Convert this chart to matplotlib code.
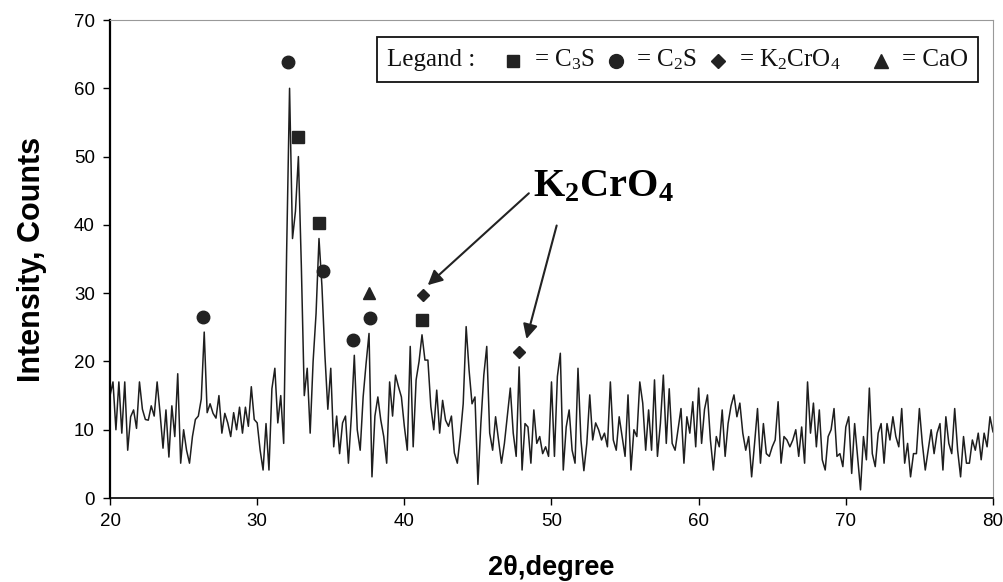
import numpy as np
import matplotlib
matplotlib.use('Agg')
import matplotlib.pyplot as plt
from matplotlib.lines import Line2D
from matplotlib.offsetbox import TextArea, DrawingArea, HPacker, AnchoredOffsetbox

plt.rcParams['font.family'] = ['Liberation Sans', 'DejaVu Sans']
plt.rcParams['mathtext.fontset'] = 'custom'
plt.rcParams['mathtext.rm'] = 'Liberation Serif'
plt.rcParams['mathtext.it'] = 'Liberation Serif:italic'
plt.rcParams['mathtext.bf'] = 'Liberation Serif:bold'

# XRD scan, every 0.2 degree (20 -> 80)
theta_start = 20.0
theta_step = 0.2
intensity = [
    15, 17, 10, 17, 9.5, 17, 7, 11.9, 12.9, 10.2,
    17, 13, 11.5, 11.4, 13.5, 12, 17, 12.4, 7.3, 12.9,
    6, 13.5, 9, 18.2, 5.1, 10, 7, 5.1, 9, 11.5,
    12, 14.5, 24.3, 12.5, 13.8, 12.4, 11.7, 15, 9.5, 12.4,
    11, 9, 12.5, 10, 13.3, 9.5, 13.3, 10.5, 16.3, 11.5,
    11, 7, 4.1, 10.9, 4.1, 16, 19, 11, 15, 8,
    36, 60, 38, 42, 50, 34, 15, 19, 9.5, 20,
    27, 38, 31, 21, 13, 19, 7.5, 12, 6.5, 11,
    12, 5.1, 12, 20.9, 10, 7, 14.8, 19.7, 24.1, 3.1,
    12, 14.8, 11.4, 9, 5.1, 17, 12, 18, 16.3, 14.8,
    10.5, 7, 22.2, 7.5, 17.3, 20, 23.9, 20.2, 20.2, 13.4,
    10, 15.8, 9.5, 14.3, 11.4, 10.5, 12, 6.6, 5.1, 9,
    13.8, 25.1, 18.7, 13.8, 14.8, 2, 10.9, 18, 22.2, 9.5,
    7, 11.9, 8.5, 5.1, 8, 12, 16.1, 9.5, 6.1, 19.2,
    4.1, 10.9, 10.4, 5.1, 12.9, 8, 9, 6.5, 7.5, 6.1,
    17, 6.1, 17.8, 21.2, 4.1, 10.4, 12.9, 7, 5.1, 19,
    8.5, 4, 8, 15.1, 8.5, 11, 10, 8.5, 9.5, 7.5,
    17, 8.5, 7, 11.9, 9, 6.1, 15.1, 4.1, 10, 9,
    17, 13.9, 7, 12.9, 7, 17.3, 6.1, 10.9, 18, 8,
    16, 8, 7, 10, 13.1, 5.1, 11.9, 9.5, 14.1, 7.5,
    16.1, 8, 13, 15.1, 8.5, 4.1, 9, 7.5, 12.9, 6.1,
    10.9, 13.5, 15.1, 11.9, 13.9, 9.5, 7, 9, 3.1, 8,
    13.1, 5.1, 10.9, 6.5, 6.1, 7.5, 8.5, 14.1, 5.1, 9,
    8.5, 7.5, 8.5, 10, 6.1, 10.4, 5.1, 17, 9.5, 13.9,
    7.5, 12.9, 5.6, 4.1, 9, 10, 13.1, 6.1, 6.5, 4.6,
    10.4, 11.9, 3.6, 10.9, 6.1, 1.2, 9, 5.6, 16.1, 6.5,
    4.6, 9.5, 10.9, 5.1, 10.9, 8.5, 11.9, 9, 7.5, 13.1,
    5.1, 8, 3.1, 6.5, 6.5, 13.1, 8, 4.1, 7, 10,
    6.5, 9.5, 10.9, 4.1, 11.9, 8, 6.5, 13.1, 7, 3.1,
    9, 5.1, 5.1, 8.5, 7, 9.5, 5.6, 9.5, 7.5, 11.9,
    9.7,
]
two_theta = theta_start + theta_step * np.arange(len(intensity))

# phase markers
c3s_x = [32.8, 34.2, 41.2]
c3s_y = [52.9, 40.3, 26.0]
c2s_x = [26.3, 32.1, 34.5, 36.5, 37.7]
c2s_y = [26.5, 63.8, 33.3, 23.1, 26.4]
k2cro4_x = [41.3, 47.8]
k2cro4_y = [29.7, 21.4]
cao_x = [37.6]
cao_y = [30.0]

fig, ax = plt.subplots(figsize=(10.04, 5.82), dpi=100)
fig.subplots_adjust(left=0.1096, right=0.989, bottom=0.1443, top=0.9656)

ax.plot(two_theta, intensity, color='#1e1e1e', linewidth=1.1)

ax.plot(c3s_x, c3s_y, 's', color='#222222', markersize=8, linestyle='none')
ax.plot(c2s_x, c2s_y, 'o', color='#222222', markersize=9, linestyle='none')
ax.plot(k2cro4_x, k2cro4_y, 'D', color='#222222', markersize=6, linestyle='none')
ax.plot(cao_x, cao_y, '^', color='#222222', markersize=9, linestyle='none')

# K2CrO4 callout
ax.text(53.5, 45.6, r'K$_\mathbf{2}$CrO$_\mathbf{4}$', family='Liberation Serif',
        fontweight='bold', fontsize=29, ha='center', va='center')
arrow = dict(arrowstyle='-|>', mutation_scale=22, lw=1.5, color='#222222')
ax.annotate('', xy=(41.45, 30.9), xytext=(48.6, 44.9), arrowprops=arrow)
ax.annotate('', xy=(48.25, 22.9), xytext=(50.4, 40.3), arrowprops=arrow)

ax.set_xlim(20, 80)
ax.set_ylim(0, 70)
ax.set_xticks(range(20, 81, 10))
ax.set_yticks(range(0, 71, 10))
ax.tick_params(direction='out', length=5, width=1, labelsize=13.5, pad=6)
ax.set_xlabel('2θ,degree', fontsize=19.5, fontweight='bold', labelpad=18)
ax.set_ylabel('Intensity, Counts', fontsize=22, fontweight='bold', labelpad=19)

ax.spines['left'].set_linewidth(1.6)
ax.spines['bottom'].set_linewidth(1.2)
for s in ['top', 'right']:
    ax.spines[s].set_color('#999999')
    ax.spines[s].set_linewidth(0.8)

# legend box: "Legand : ■ = C3S ● = C2S ◆ = K2CrO4 ▲ = CaO"
serif = dict(family='Liberation Serif', size=18, color='#111111')


def marker_area(marker, size):
    da = DrawingArea(14, 14, 0, 0)
    da.add_artist(Line2D([7], [6], marker=marker, markersize=size,
                         color='#222222', linestyle='none'))
    return da


def gap(w):
    return DrawingArea(w, 1, 0, 0)


items = [
    TextArea('Legand :', textprops=serif),
    gap(4),
    marker_area('s', 9),
    TextArea('= C$_3$S', textprops=serif),
    marker_area('o', 10),
    TextArea('= C$_2$S', textprops=serif),
    marker_area('D', 7),
    TextArea('= K$_2$CrO$_4$', textprops=serif),
    gap(6),
    marker_area('^', 10),
    TextArea('= CaO', textprops=serif),
]
row = HPacker(children=items, align='center', pad=0, sep=8)
box = AnchoredOffsetbox(loc='upper right', child=row, pad=0.4, borderpad=0,
                        frameon=True, bbox_to_anchor=(0.983, 0.964),
                        bbox_transform=ax.transAxes, prop=dict(size=18))
box.patch.set_boxstyle('square', pad=0)
box.patch.set_linewidth(1.3)
box.patch.set_edgecolor('#111111')
ax.add_artist(box)

fig.savefig('out.png', dpi=100)
